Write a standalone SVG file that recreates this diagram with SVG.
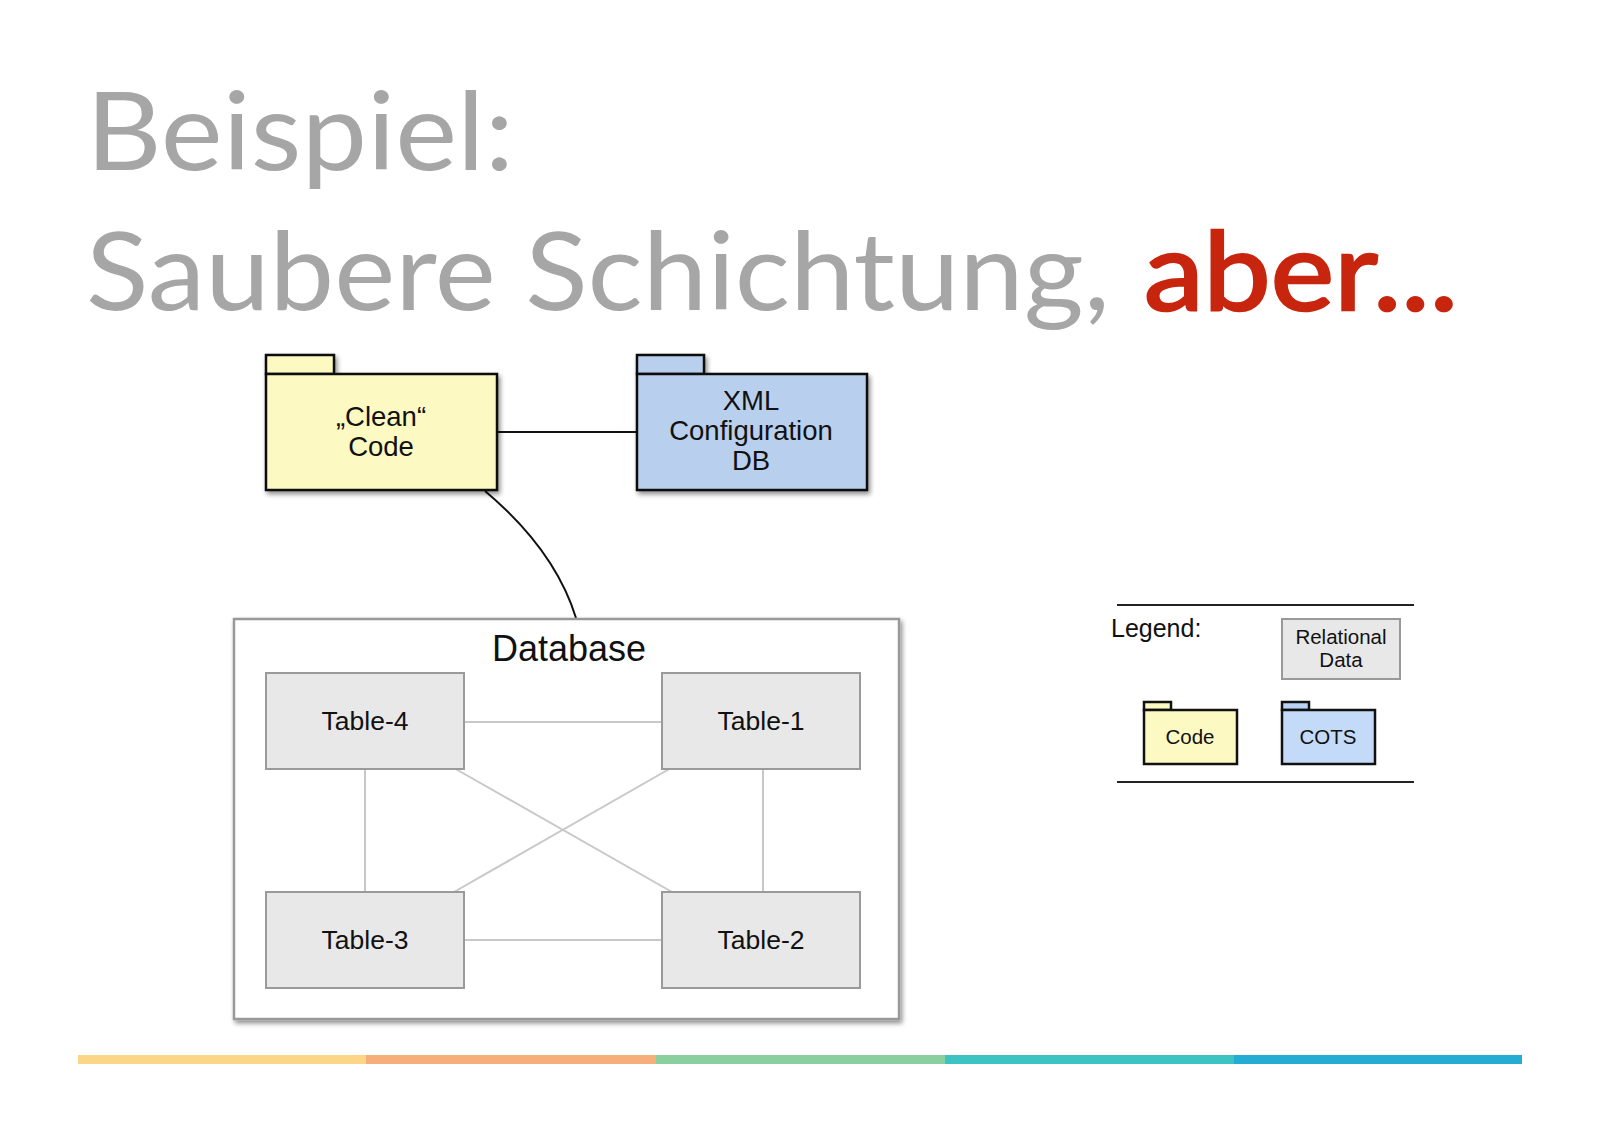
<svg xmlns="http://www.w3.org/2000/svg" width="1600" height="1130" viewBox="0 0 1600 1130">
<defs>
<filter id="sh" x="-10%" y="-10%" width="130%" height="130%">
<feGaussianBlur in="SourceAlpha" stdDeviation="2.5"/>
<feOffset dx="2" dy="3" result="b"/>
<feComponentTransfer><feFuncA type="linear" slope="0.45"/></feComponentTransfer>
<feMerge><feMergeNode/><feMergeNode in="SourceGraphic"/></feMerge>
</filter>
<style>
.t{font-family:Lato,"Noto Sans",sans-serif;fill:#a6a6a6;font-size:108px}
.l{font-family:"Liberation Sans",Arial,sans-serif;fill:#111;text-anchor:middle}
.pk{stroke:#111;stroke-width:2.5}
.y{fill:#fcf9c2}
.b{fill:#b9cfee}
.tb{fill:#e8e8e8;stroke:#9a9a9a;stroke-width:2}
.rel{stroke:#c8c8c8;stroke-width:2;fill:none}
</style>
</defs>
<rect width="1600" height="1130" fill="#fff"/>
<g id="title">
<text class="t" x="86" y="170" textLength="428" lengthAdjust="spacingAndGlyphs">Beispiel:</text>
<text class="t" x="86" y="310" textLength="1024" lengthAdjust="spacingAndGlyphs">Saubere Schichtung,</text>
<text class="t" x="1144" y="310" textLength="314" lengthAdjust="spacingAndGlyphs" style="fill:#c8250f;stroke:#c8250f;stroke-width:2.5">aber...</text>
</g>
<g id="connectors">
<line x1="497" y1="432" x2="637" y2="432" stroke="#111" stroke-width="2"/>
<path d="M485,491 Q555,550 576,618" stroke="#111" stroke-width="2" fill="none"/>
</g>
<g id="clean-code" filter="url(#sh)">
<rect class="pk y" x="266" y="355" width="68" height="19"/>
<rect class="pk y" x="266" y="374" width="231" height="116"/>
</g>
<g id="clean-code-label">
<text class="l" x="381" y="426" font-size="27.5">„Clean“</text>
<text class="l" x="381" y="456" font-size="27.5">Code</text>
</g>
<g id="xml-db" filter="url(#sh)">
<rect class="pk b" x="637" y="355" width="67" height="19"/>
<rect class="pk b" x="637" y="374" width="230" height="116"/>
</g>
<g id="xml-db-label">
<text class="l" x="751" y="410" font-size="27.5">XML</text>
<text class="l" x="751" y="440" font-size="27.5">Configuration</text>
<text class="l" x="751" y="470" font-size="27.5">DB</text>
</g>
<g id="database">
<rect x="234" y="619" width="665" height="400" fill="#fff" stroke="#999" stroke-width="2.5" filter="url(#sh)"/>
<text class="l" x="569" y="661" font-size="36">Database</text>
</g>
<g id="table-relations">
<line class="rel" x1="464" y1="722" x2="662" y2="722"/>
<line class="rel" x1="464" y1="940" x2="662" y2="940"/>
<line class="rel" x1="365" y1="768" x2="365" y2="892"/>
<line class="rel" x1="763" y1="768" x2="763" y2="892"/>
<line class="rel" x1="454" y1="768" x2="672" y2="892"/>
<line class="rel" x1="671" y1="768" x2="454" y2="892"/>
</g>
<g id="table-4"><rect class="tb" x="266" y="673" width="198" height="96"/><text class="l" x="365" y="730" font-size="26.5" fill="#222">Table-4</text></g>
<g id="table-1"><rect class="tb" x="662" y="673" width="198" height="96"/><text class="l" x="761" y="730" font-size="26.5" fill="#222">Table-1</text></g>
<g id="table-3"><rect class="tb" x="266" y="892" width="198" height="96"/><text class="l" x="365" y="949" font-size="26.5" fill="#222">Table-3</text></g>
<g id="table-2"><rect class="tb" x="662" y="892" width="198" height="96"/><text class="l" x="761" y="949" font-size="26.5" fill="#222">Table-2</text></g>
<g id="legend">
<line x1="1117" y1="605" x2="1414" y2="605" stroke="#222" stroke-width="2"/>
<line x1="1117" y1="782" x2="1414" y2="782" stroke="#222" stroke-width="2"/>
<text x="1111" y="637" font-size="25" font-family="Liberation Sans,Arial,sans-serif" fill="#111">Legend:</text>
<rect x="1282" y="619" width="118" height="60" fill="#e8e8e8" stroke="#999" stroke-width="2"/>
<text class="l" x="1341" y="644" font-size="20.5" fill="#222">Relational</text>
<text class="l" x="1341" y="667" font-size="20.5" fill="#222">Data</text>
<rect class="pk y" x="1144" y="702" width="27" height="8" stroke-width="2"/>
<rect class="pk y" x="1144" y="710" width="93" height="54" stroke-width="2"/>
<text class="l" x="1190" y="744" font-size="20.5">Code</text>
<rect class="pk" x="1282" y="702" width="27" height="8" stroke-width="2" fill="#b9d3f7"/>
<rect class="pk" x="1282" y="710" width="93" height="54" stroke-width="2" fill="#c4daf9"/>
<text class="l" x="1328" y="744" font-size="20.5">COTS</text>
</g>
<g id="footer-bar">
<rect x="78" y="1055" width="288" height="9" fill="#fbd686"/>
<rect x="366" y="1055" width="290" height="9" fill="#f6ae7a"/>
<rect x="656" y="1055" width="289" height="9" fill="#8ccf9f"/>
<rect x="945" y="1055" width="289" height="9" fill="#3ec3c3"/>
<rect x="1234" y="1055" width="288" height="9" fill="#25acd3"/>
</g>
</svg>
